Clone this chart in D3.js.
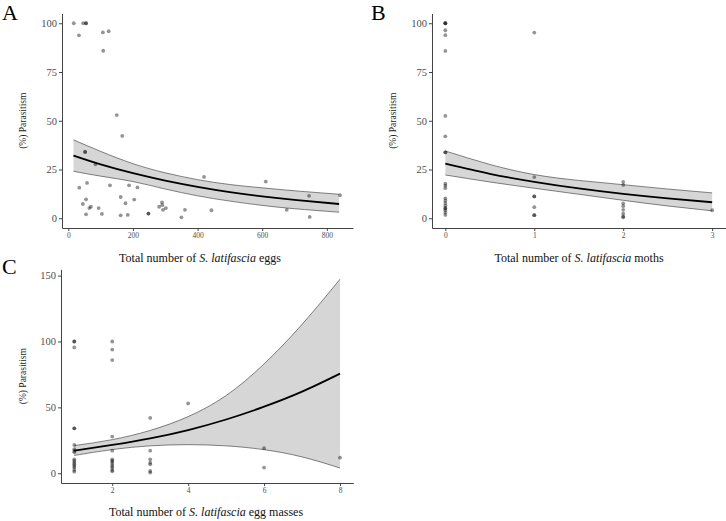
<!DOCTYPE html>
<html>
<head>
<meta charset="utf-8">
<script src="https://cdn.jsdelivr.net/npm/d3@7"></script>
<style>
  body { margin: 0; background: #fff; }
  svg { display: block; }
  svg text { font-family: "Liberation Serif", "DejaVu Serif", serif; }
</style>
</head>
<body>
<div id="chart"></div>
<script>
// ---- data ----
// panel A: total number of eggs vs % parasitism
const eggsX = [17, 46, 55, 55, 33, 107, 125, 108, 150, 167, 52, 52, 84, 34, 58, 129, 188, 214,
  45, 55, 65, 70, 94, 55, 104, 162, 177, 162, 184, 204, 248, 248, 281, 290, 291, 293, 302,
  350, 361, 420, 443, 611, 676, 745, 747, 841];
const eggsY = [100, 100, 100, 100, 93.8, 95.3, 95.9, 85.9, 52.9, 42.2, 34, 34, 27.7, 15.7, 18.1, 16.9, 16.9, 15.8,
  7.3, 9.7, 5.2, 5.9, 5.2, 2.0, 2.2, 10.9, 7.7, 1.5, 1.7, 9.6, 2.4, 2.4, 5.9, 8.1, 6.7, 4.3, 5.2,
  0.5, 4.3, 21.2, 4.1, 18.8, 4.3, 11.5, 0.7, 11.8];
const eggsFitX = [16, 100, 200, 300, 400, 500, 600, 700, 838];
const eggsFit = [32.1, 27.6, 23.1, 19.3, 16.1, 13.4, 11.2, 9.4, 7.3];
const eggsUpper = [40.2, 34.3, 28.0, 23.3, 19.8, 17.3, 15.6, 14.1, 12.3];
const eggsLower = [24.1, 21.6, 18.8, 15.0, 11.5, 8.8, 6.6, 4.9, 3.1];

// panel B: total number of moths
const mothsX = [0, 0, 0, 0, 0, 0, 0, 0, 0, 0, 0, 0, 0, 0, 0, 0, 0, 0, 0, 0, 0, 0,
  1, 1, 1, 1, 1, 1, 1, 2, 2, 2, 2, 2, 2, 2, 2, 3];
const mothsY = [100, 100, 100, 96.4, 93.9, 85.8, 52.5, 42, 33.8, 33.8, 17.7, 16.7, 15.4, 10.2, 9.0, 7.8, 6.5, 5.3, 4.1, 2.9, 1.7, 5.0,
  95.2, 21.1, 11.2, 11.2, 5.7, 1.6, 1.6, 18.7, 17.1, 7.6, 6.2, 4.3, 2.3, 0.9, 0.5, 4.1];
const mothsFitX = [0, 0.5, 1, 1.5, 2, 2.5, 3];
const mothsFit = [28.0, 22.8, 18.7, 15.3, 12.5, 10.2, 8.2];
const mothsUpper = [34.5, 27.6, 22.4, 19.4, 17.2, 15.0, 13.0];
const mothsLower = [22.2, 18.6, 15.4, 12.3, 9.2, 6.3, 3.8];

// panel C: total number of egg masses
const massesX = [1, 1, 1, 1, 1, 1, 1, 1, 1, 1, 1, 1, 1, 1, 1, 1, 1,
  2, 2, 2, 2, 2, 2, 2, 2, 2, 2, 2, 2, 2,
  3, 3, 3, 3, 3, 3, 3, 4, 6, 6, 8];
const massesY = [100, 100, 95.5, 34.1, 34.1, 21.5, 18.2, 17, 15.9, 10.6, 9.3, 8.0, 6.8, 5.5, 4.3, 2.5, 1.2,
  100, 93.9, 85.9, 27.8, 17.1, 10.6, 9.3, 8.6, 7, 5.5, 4.3, 2.5, 1.5,
  42, 17.1, 10.6, 8, 6.8, 1.7, 0.5, 53, 19, 4.3, 11.8];
const massesFitX = [1, 2, 3, 4, 5, 6, 7, 8];
const massesFit = [17.1, 21.5, 26.5, 32.8, 40.8, 50.5, 61.9, 75.6];
const massesUpper = [21.0, 25.5, 32.5, 43.0, 59.0, 83.0, 113.0, 147.3];
const massesLower = [13.5, 18.0, 20.8, 21.7, 20.8, 17.9, 12.4, 4.0];

const W = 726, H = 521;
const svg = d3.select("#chart").append("svg")
  .attr("width", W)
  .attr("height", H);

const serif = "Liberation Serif";

function drawPanel(p) {
  const g = svg.append("g");
  const x = d3.scaleLinear().domain(p.xDomain).range(p.xRange);
  const y = d3.scaleLinear().domain(p.yDomain).range(p.yRange);

  // confidence band
  const band = p.fitX.map((v, i) => ({x: v, fit: p.fit[i], lo: p.lower[i], hi: p.upper[i]}));
  const curve = d3.curveNatural;
  g.append("path")
    .datum(band)
    .attr("d", d3.area().curve(curve).x(d => x(d.x)).y0(d => y(d.lo)).y1(d => y(d.hi)))
    .attr("fill", "#d6d6d6");
  ["lo", "hi"].forEach(k => {
    g.append("path")
      .datum(band)
      .attr("d", d3.line().curve(curve).x(d => x(d.x)).y(d => y(d[k])))
      .attr("fill", "none")
      .attr("stroke", "#333")
      .attr("stroke-width", 0.6);
  });

  // points
  g.selectAll("circle")
    .data(p.px.map((v, i) => [v, p.py[i]]))
    .enter().append("circle")
    .attr("cx", d => x(d[0]))
    .attr("cy", d => y(d[1]))
    .attr("r", 1.9)
    .attr("fill", "#000")
    .attr("fill-opacity", 0.42);

  // fitted line
  g.append("path")
    .datum(band)
    .attr("d", d3.line().curve(curve).x(d => x(d.x)).y(d => y(d.fit)))
    .attr("fill", "none")
    .attr("stroke", "#000")
    .attr("stroke-width", 1.8);

  // axes
  const xAxis = g.append("g")
    .attr("transform", "translate(0," + p.yRange[0] + ")")
    .call(d3.axisBottom(x).tickValues(p.xTicks).tickFormat(d3.format("d"))
      .tickSize(3).tickSizeOuter(0).tickPadding(2));
  xAxis.selectAll("text").attr("font-size", 7.5);
  const yAxis = g.append("g")
    .attr("transform", "translate(" + p.xRange[0] + ",0)")
    .call(d3.axisLeft(y).tickValues(p.yTicks).tickFormat(d3.format("d"))
      .tickSize(3).tickSizeOuter(0).tickPadding(2));
  yAxis.selectAll("text").attr("font-size", 10.5);
  [xAxis, yAxis].forEach(a => {
    a.attr("font-family", serif);
    a.selectAll("text").attr("font-family", serif).attr("fill", "#4d4d4d");
    a.select(".domain").attr("stroke", "#444").attr("stroke-width", 1);
    a.selectAll(".tick line").attr("stroke", "#444");
  });

  // titles
  const yMid = (p.yRange[0] + p.yRange[1]) / 2;
  g.append("text")
    .attr("transform", "translate(" + p.yTitleX + "," + yMid + ") rotate(-90)")
    .attr("text-anchor", "middle")
    .attr("dy", "0.35em")
    .attr("font-family", serif)
    .attr("font-size", 9.5)
    .attr("fill", "#222")
    .text("(%) Parasitism");

  const xt = g.append("text")
    .attr("x", p.xTitleX)
    .attr("y", p.xTitleY)
    .attr("text-anchor", "middle")
    .attr("font-family", serif)
    .attr("font-size", 12)
    .attr("fill", "#111");
  xt.append("tspan").text("Total number of ");
  xt.append("tspan").attr("font-style", "italic").text("S. latifascia");
  xt.append("tspan").text(" " + p.what);

  g.append("text")
    .attr("x", p.letter[1])
    .attr("y", p.letter[2])
    .attr("font-family", serif)
    .attr("font-size", 22)
    .attr("fill", "#000")
    .text(p.letter[0]);
}

drawPanel({
  px: eggsX, py: eggsY, fitX: eggsFitX, fit: eggsFit, upper: eggsUpper, lower: eggsLower,
  xDomain: [-19.5, 881], xRange: [62, 353], yDomain: [-5, 105], yRange: [228, 13.5],
  xTicks: [0, 200, 400, 600, 800], yTicks: [0, 25, 50, 75, 100],
  yTitleX: 23, xTitleX: 200, xTitleY: 262, what: "eggs", letter: ["A", 2, 20]
});
drawPanel({
  px: mothsX, py: mothsY, fitX: mothsFitX, fit: mothsFit, upper: mothsUpper, lower: mothsLower,
  xDomain: [-0.15, 3.15], xRange: [432, 725.5], yDomain: [-5, 105], yRange: [228, 13.5],
  xTicks: [0, 1, 2, 3], yTicks: [0, 25, 50, 75, 100],
  yTitleX: 393, xTitleX: 579, xTitleY: 262, what: "moths", letter: ["B", 371, 20]
});
drawPanel({
  px: massesX, py: massesY, fitX: massesFitX, fit: massesFit, upper: massesUpper, lower: massesLower,
  xDomain: [0.65, 8.35], xRange: [61, 353.3], yDomain: [-7.4, 154.8], yRange: [483, 269.3],
  xTicks: [2, 4, 6, 8], yTicks: [0, 50, 100, 150],
  yTitleX: 23, xTitleX: 206, xTitleY: 516, what: "egg masses", letter: ["C", 2, 274]
});
</script>
</body>
</html>
